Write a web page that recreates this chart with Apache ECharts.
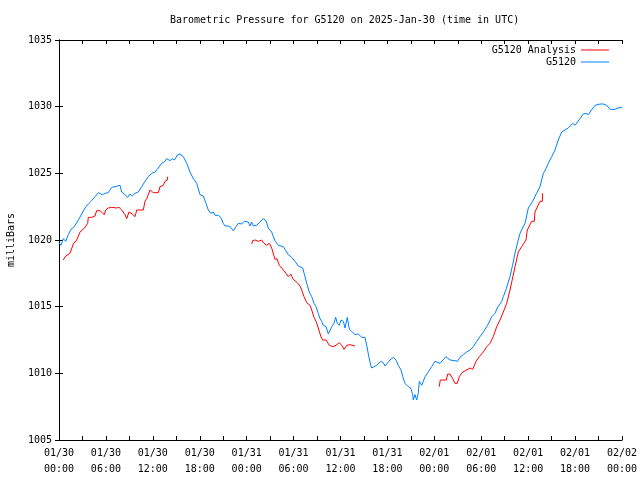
<!DOCTYPE html>
<html>
<head>
<meta charset="utf-8">
<script src="https://cdn.jsdelivr.net/npm/echarts@6/dist/echarts.min.js"></script>
<style>html,body{margin:0;padding:0;background:#fff}#c{width:640px;height:480px}</style>
</head>
<body>
<div id="c"></div>
<script>
// Hours since 2025-01-30 00:00 UTC
var stationHours = [0.0,0.26,0.55,0.86,1.19,1.53,1.96,2.47,2.9,3.33,3.75,4.18,4.6,5.03,5.54,5.88,6.3,6.74,7.16,7.8,8.02,8.44,8.79,9.08,9.37,9.72,10.14,10.58,11.0,11.42,11.86,12.28,12.7,13.13,13.56,13.77,14.2,14.49,14.75,15.18,15.47,15.9,16.33,16.75,17.18,17.61,18.03,18.45,18.8,19.09,19.4,19.73,19.95,20.37,20.68,21.01,21.23,21.65,21.96,22.29,22.64,22.93,23.37,23.7,24.21,24.43,24.64,24.85,25.28,25.71,26.13,26.47,26.77,27.2,27.41,27.62,28.05,28.69,28.9,29.32,29.76,30.18,30.6,31.17,31.46,31.68,32.01,32.32,32.61,32.87,33.16,33.38,33.6,33.8,34.15,34.44,34.66,34.88,35.17,35.39,35.59,35.85,36.06,36.36,36.58,36.7,36.87,37.13,37.43,37.85,38.28,38.71,39.13,39.35,39.56,39.86,39.99,40.2,40.63,41.14,41.47,41.69,41.91,42.33,42.75,43.1,43.39,43.74,43.96,44.25,44.67,44.98,45.23,45.31,45.53,45.74,45.95,46.08,46.39,46.59,46.81,47.23,47.66,48.09,48.3,48.72,49.11,49.49,50.0,50.64,50.94,51.28,51.7,52.14,52.56,52.78,52.98,53.42,53.84,54.26,54.7,54.99,55.34,55.76,56.05,56.62,56.82,57.17,57.68,58.0,58.32,58.64,58.96,59.28,59.6,60.02,60.24,60.66,61.07,61.51,61.94,62.28,62.58,63.01,63.43,63.85,64.29,64.71,65.13,65.69,65.99,66.5,67.05,67.4,67.69,68.1,68.55,69.19,69.61,70.04,70.46,71.1,71.49,71.74,72.0];
var stationValues = [1019.8,1019.6,1020.1,1019.9,1020.4,1020.8,1021.0,1021.5,1021.95,1022.4,1022.7,1022.95,1023.25,1023.55,1023.4,1023.5,1023.55,1023.95,1024.0,1024.1,1023.6,1023.4,1023.2,1023.45,1023.3,1023.5,1023.6,1024.0,1024.4,1024.75,1025.0,1025.1,1025.4,1025.75,1025.9,1026.1,1025.95,1026.1,1026.0,1026.4,1026.45,1026.25,1025.75,1025.1,1024.6,1024.25,1023.4,1023.3,1022.75,1022.25,1022.0,1022.1,1021.85,1021.85,1021.7,1021.25,1021.05,1021.05,1020.95,1020.7,1021.0,1021.25,1021.2,1021.4,1021.35,1021.05,1021.35,1021.05,1021.1,1021.35,1021.6,1021.45,1020.9,1020.6,1020.25,1019.95,1019.6,1019.5,1019.3,1018.9,1018.7,1018.4,1018.05,1017.9,1017.25,1016.75,1016.1,1015.75,1015.25,1015.0,1014.5,1014.1,1013.9,1013.6,1013.5,1012.95,1012.95,1013.5,1013.75,1014.2,1013.75,1013.6,1014.0,1013.9,1013.4,1013.25,1014.2,1013.3,1013.15,1012.9,1012.95,1012.7,1012.7,1012.1,1011.45,1010.6,1010.4,1010.4,1010.6,1010.9,1010.8,1010.55,1010.55,1011.0,1011.2,1011.0,1010.6,1010.25,1009.75,1009.25,1009.0,1008.9,1008.4,1008.0,1008.4,1008.0,1008.5,1009.4,1009.1,1009.1,1009.75,1010.1,1010.5,1010.9,1011.0,1010.75,1011.0,1011.25,1011.0,1010.95,1010.9,1011.2,1011.4,1011.6,1011.75,1011.6,1012.0,1012.4,1012.75,1013.1,1013.5,1013.8,1014.25,1014.5,1014.9,1015.4,1015.75,1016.3,1017.25,1018.1,1019.0,1019.8,1020.5,1020.9,1021.25,1022.4,1022.6,1023.0,1023.5,1024.0,1025.0,1025.35,1025.75,1026.25,1026.75,1027.5,1028.1,1028.25,1028.4,1028.75,1028.6,1029.0,1029.45,1029.5,1029.4,1029.75,1030.1,1030.2,1030.2,1030.1,1029.8,1029.8,1029.9,1030.0,1029.95];

// Analysis: three runs, separated by gaps ('-')
var analysisHours = [0.55,0.86,1.41,1.62,1.83,2.26,2.69,3.33,3.67,3.75,4.18,4.6,4.82,5.24,5.46,5.79,5.97,6.3,6.74,6.94,7.38,7.67,8.02,8.44,8.66,8.95,9.37,9.72,9.94,10.78,11.0,11.22,11.64,12.06,12.7,12.92,13.34,13.56,13.85,13.9,
  19.0,
  24.64,24.77,25.07,25.49,25.92,26.13,26.56,26.89,27.2,27.62,27.88,28.17,28.48,28.9,29.32,29.63,29.96,30.48,30.82,31.04,31.33,31.68,32.1,32.32,32.61,32.87,33.16,33.47,33.72,34.15,34.57,35.0,35.42,35.85,36.15,36.45,36.79,37.22,37.85,
  43.0,
  48.63,48.76,49.53,49.71,50.0,50.35,50.64,50.94,51.19,51.63,52.14,52.56,52.91,53.33,53.75,54.26,54.7,55.12,55.54,55.98,56.4,56.82,57.25,57.68,58.32,58.74,59.17,59.72,59.89,60.45,60.78,60.87,61.51,61.81,61.86];
var analysisValues = [1018.5,1018.8,1019.0,1019.1,1019.7,1020.0,1020.6,1020.95,1021.25,1021.7,1021.7,1021.8,1022.2,1022.2,1022.05,1021.9,1022.25,1022.4,1022.45,1022.3,1022.4,1022.45,1022.25,1021.9,1021.6,1022.1,1021.95,1021.75,1022.25,1022.25,1022.9,1023.1,1023.75,1023.55,1023.55,1024.0,1024.1,1024.4,1024.5,1024.75,
  '-',
  1019.7,1019.95,1020.0,1019.9,1020.0,1019.8,1019.6,1019.75,1019.4,1018.55,1018.6,1018.1,1017.9,1017.6,1017.25,1017.45,1017.05,1016.8,1016.55,1016.25,1015.75,1015.3,1015.1,1014.75,1014.2,1013.9,1013.4,1012.8,1012.5,1012.5,1012.1,1012.0,1012.1,1012.3,1012.1,1011.8,1012.1,1012.15,1012.05,
  '-',
  1009.0,1009.5,1009.5,1009.95,1009.95,1009.6,1009.25,1009.25,1009.75,1010.1,1010.25,1010.4,1010.3,1010.9,1011.25,1011.6,1012.0,1012.25,1012.75,1013.5,1014.0,1014.6,1015.25,1016.25,1018.0,1019.1,1019.5,1020.0,1020.75,1021.4,1021.4,1022.1,1022.9,1022.9,1023.5];

var xTickLabels = ['01/30\n00:00','01/30\n06:00','01/30\n12:00','01/30\n18:00','01/31\n00:00','01/31\n06:00','01/31\n12:00','01/31\n18:00','02/01\n00:00','02/01\n06:00','02/01\n12:00','02/01\n18:00','02/02\n00:00'];
var titleText = 'Barometric Pressure for G5120 on 2025-Jan-30 (time in UTC)';
var seriesNames = ['G5120 Analysis','G5120'];
var yName = 'milliBars';

function zip(a,b){var r=[];for(var i=0;i<a.length;i++)r.push([a[i],b[i]]);return r;}

var FONT = 'DejaVu Sans Mono';
var chart = echarts.init(document.getElementById('c'), null, {renderer:'canvas'});
var axisLine = {show:true, lineStyle:{color:'#000', width:1}};
chart.setOption({
  animation:false,
  backgroundColor:'#fff',
  textStyle:{fontFamily:FONT, color:'#000'},
  title:{text:titleText, left:165, top:10, textStyle:{fontFamily:FONT, fontSize:10, fontWeight:'normal', color:'#000'}},
  legend:[
    {data:[seriesNames[0]], right:31, top:45, padding:0, orient:'vertical', align:'right', itemWidth:28, itemHeight:1, icon:'rect', itemGap:8,
     textStyle:{fontFamily:FONT, fontSize:10, color:'#000'}},
    {data:[seriesNames[1]], right:31, top:57, padding:0, orient:'vertical', align:'right', itemWidth:28, itemHeight:1, icon:'rect', itemGap:8,
     textStyle:{fontFamily:FONT, fontSize:10, color:'#000'}}
  ],
  grid:{left:59, right:18, top:40, bottom:40, containLabel:false, outerBoundsMode:'none'},
  xAxis:[
    {type:'value', min:0, max:72, interval:6, position:'bottom',
     axisLine:axisLine, splitLine:{show:false},
     axisTick:{show:true, inside:true, length:4, lineStyle:{color:'#000'}},
     minorTick:{show:true, splitNumber:2, length:4, lineStyle:{color:'#000'}},
     axisLabel:{margin:5, fontFamily:FONT, fontSize:10, lineHeight:16, color:'#000',
       formatter:function(v){return xTickLabels[Math.round(v/6)];}}},
    {type:'value', min:0, max:72, interval:6, position:'top',
     axisLine:axisLine, splitLine:{show:false},
     axisTick:{show:true, inside:true, length:4, lineStyle:{color:'#000'}},
     minorTick:{show:true, splitNumber:2, length:4, lineStyle:{color:'#000'}},
     axisLabel:{show:false}}
  ],
  yAxis:[
    {type:'value', min:1005, max:1035, interval:5, position:'left',
     name:yName, nameLocation:'middle', nameRotate:90, nameGap:43,
     nameTextStyle:{fontFamily:FONT, fontSize:10, color:'#000'},
     axisLine:axisLine, splitLine:{show:false},
     axisTick:{show:true, inside:true, length:4, lineStyle:{color:'#000'}},
     axisLabel:{margin:7, fontFamily:FONT, fontSize:10, color:'#000', formatter:function(v){return String(v);}}},
    {type:'value', min:1005, max:1035, interval:5, position:'right',
     axisLine:axisLine, splitLine:{show:false},
     axisTick:{show:true, inside:true, length:4, lineStyle:{color:'#000'}},
     axisLabel:{show:false}}
  ],
  series:[
    {name:seriesNames[0], type:'line', xAxisIndex:0, yAxisIndex:0, data:zip(analysisHours, analysisValues),
     showSymbol:false, symbol:'none', connectNulls:false, color:'#ff0000', lineStyle:{color:'#ff0000', width:1}},
    {name:seriesNames[1], type:'line', xAxisIndex:0, yAxisIndex:0, data:zip(stationHours, stationValues),
     showSymbol:false, symbol:'none', color:'#0080ff', lineStyle:{color:'#0080ff', width:1}}
  ]
});
</script>
</body>
</html>
